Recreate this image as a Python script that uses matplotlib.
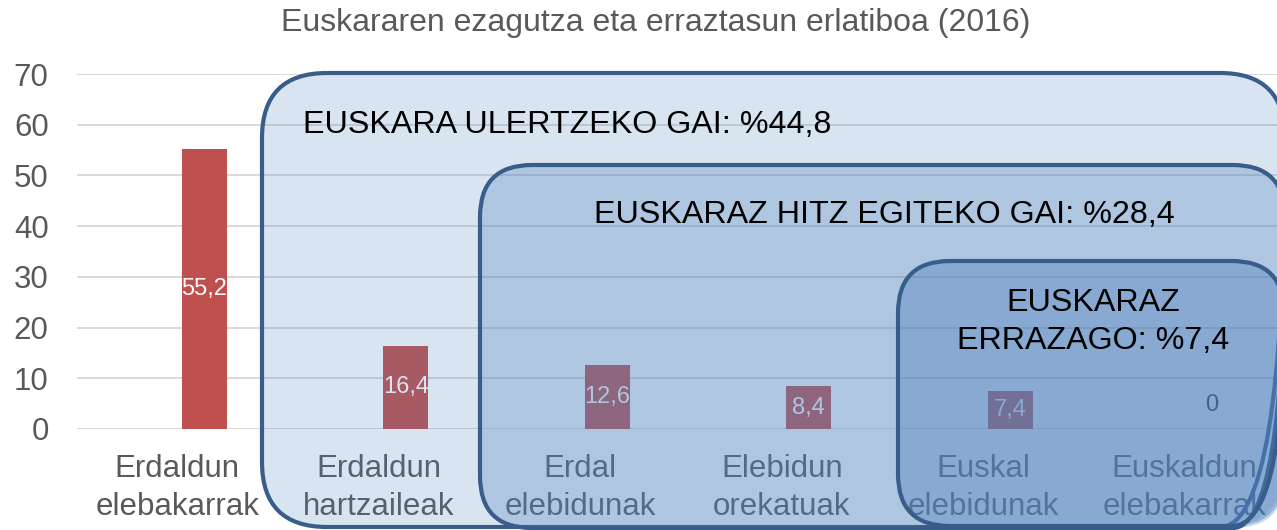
import matplotlib
matplotlib.use("Agg")
import matplotlib.pyplot as plt
from matplotlib.patches import FancyBboxPatch

categories = ["Erdaldun\nelebakarrak", "Erdaldun\nhartzaileak", "Erdal\nelebidunak",
              "Elebidun\norekatuak", "Euskal\nelebidunak", "Euskaldun\nelebakarrak"]
values = [55.2, 16.4, 12.6, 8.4, 7.4, 0.0]
value_labels = ["55,2", "16,4", "12,6", "8,4", "7,4", "0"]
yticks = [0, 10, 20, 30, 40, 50, 60, 70]
title = "Euskararen ezagutza eta erraztasun erlatiboa (2016)"
box_texts = ["EUSKARA ULERTZEKO GAI: %44,8",
             "EUSKARAZ HITZ EGITEKO GAI: %28,4",
             "EUSKARAZ\nERRAZAGO: %7,4"]

plt.rcParams['font.family'] = ['Liberation Sans', 'DejaVu Sans']

W, H = 1277, 530
fig = plt.figure(figsize=(W / 100, H / 100), dpi=100)
# axes spans 6 categories of ~201.5 px; right part is cropped by the figure edge
ax = fig.add_axes([76.5 / W, (H - 429) / H, 1209 / W, (429 - 74) / H])

x = list(range(len(categories)))
bar_offset = 0.134
ax.bar([xi + bar_offset for xi in x], values, width=0.223, color="#C0504D", zorder=2)
ax.set_xlim(-0.5, 5.5)
ax.set_ylim(0, 70)
ax.set_yticks(yticks)
ax.set_xticks(x)
ax.set_xticklabels(categories, fontsize=22.5, color="#595959", linespacing=1.33)
ax.tick_params(axis="y", length=0, pad=20, labelsize=22.5, labelcolor="#595959")
ax.tick_params(axis="x", length=0, pad=18)
for s in ax.spines.values():
    s.set_visible(False)
ax.grid(axis="y", color="#D9D9D9", linewidth=1.4, zorder=0)
ax.set_axisbelow(True)

for xi, v, lab in zip(x, values, value_labels):
    if v > 0:
        ax.text(xi + bar_offset, v / 2, lab, ha="center", va="center",
                fontsize=17, color="white", zorder=3)
    else:
        ax.annotate(lab, (xi + bar_offset, 0), xytext=(0, 17), textcoords="offset points",
                    ha="center", va="center", fontsize=17, color="#262626", zorder=3)

fig.text(656 / W, 1 - 23 / H, title, ha="center", va="center", fontsize=23, color="#595959")

# overlay in pixel coordinates for the rounded boxes
ov = fig.add_axes([0, 0, 1, 1])
ov.set_xlim(0, W)
ov.set_ylim(H, 0)
ov.axis("off")
ov.patch.set_alpha(0)

boxes = [
    (262, 73, 1285, 527, 65, 0.21),
    (480, 165, 1285, 528, 52, 0.30),
    (898, 261, 1284, 526, 52, 0.41),
]
for (x0, y0, x1, y1, r, a) in boxes:
    face = FancyBboxPatch((x0, y0), x1 - x0, y1 - y0,
                          boxstyle=f"round,pad=0,rounding_size={r}",
                          facecolor="#4F81BD", alpha=a, edgecolor="none")
    edge = FancyBboxPatch((x0, y0), x1 - x0, y1 - y0,
                          boxstyle=f"round,pad=0,rounding_size={r}",
                          facecolor="none", edgecolor="#385D8A", linewidth=3)
    ov.add_patch(face)
    ov.add_patch(edge)

ov.text(303, 125, box_texts[0], ha="left", va="center", fontsize=23.2, color="black")
ov.text(884, 215, box_texts[1], ha="center", va="center", fontsize=23.2, color="black")
ov.text(1093, 322, box_texts[2], ha="center", va="center", fontsize=23.2, color="black",
        linespacing=1.32)

fig.savefig("out.png", dpi=100)
